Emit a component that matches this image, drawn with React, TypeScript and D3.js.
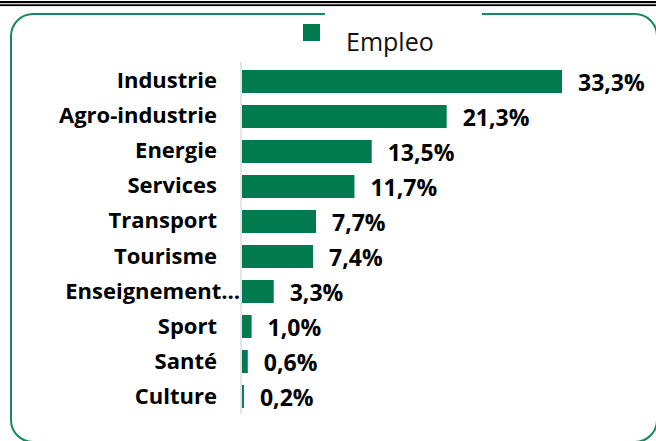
import React, { useRef, useEffect } from 'react';
import * as d3 from 'd3';

const CATEGORIES = [
  'Industrie',
  'Agro-industrie',
  'Energie',
  'Services',
  'Transport',
  'Tourisme',
  'Enseignement…',
  'Sport',
  'Santé',
  'Culture',
];
const VALUES = [33.3, 21.3, 13.5, 11.7, 7.7, 7.4, 3.3, 1.0, 0.6, 0.2];
const SERIES_NAME = 'Empleo';

const GREEN = '#007a4e';
const BORDER = '#168a5c';
const FONT = '"Open Sans", "DejaVu Sans", sans-serif';

export default function App() {
  const svgRef = useRef<SVGSVGElement | null>(null);

  useEffect(() => {
    const width = 656;
    const height = 441;
    const axisX = 241;

    d3.select(svgRef.current).selectAll('*').remove();
    const svg = d3.select(svgRef.current).attr('width', width).attr('height', height);

    // double rule on top
    svg.append('rect').attr('x', 0).attr('y', 1).attr('width', width).attr('height', 2.2).attr('fill', '#000');
    svg.append('rect').attr('x', 0).attr('y', 4.3).attr('width', width).attr('height', 1.8).attr('fill', '#000');

    // rounded frame, with a gap behind the legend
    svg.append('rect')
      .attr('x', 11).attr('y', 14)
      .attr('width', 646).attr('height', 428)
      .attr('rx', 22)
      .attr('fill', 'none')
      .attr('stroke', BORDER)
      .attr('stroke-width', 2);
    svg.append('rect').attr('x', 325).attr('y', 10).attr('width', 157).attr('height', 8).attr('fill', '#fff');

    // legend
    svg.append('rect').attr('x', 303).attr('y', 24).attr('width', 17).attr('height', 17).attr('fill', GREEN);
    svg.append('text')
      .attr('x', 346).attr('y', 51)
      .attr('font-family', FONT).attr('font-size', 25)
      .attr('fill', '#111')
      .text(SERIES_NAME);

    const x = d3.scaleLinear().domain([0, 33.3]).range([axisX + 1, 562]);
    const y = d3.scaleBand<string>()
      .domain(CATEGORIES)
      .range([70, 408])
      .paddingInner(0.343)
      .paddingOuter(0);

    const data = CATEGORIES.map((c, i) => ({ cat: c, val: VALUES[i] }));

    svg.append('g').selectAll('rect')
      .data(data)
      .join('rect')
      .attr('x', x(0))
      .attr('y', (d) => y(d.cat)!)
      .attr('width', (d) => x(d.val) - x(0))
      .attr('height', y.bandwidth())
      .attr('fill', GREEN);

    // category axis line
    svg.append('line')
      .attr('x1', axisX).attr('x2', axisX)
      .attr('y1', 62).attr('y2', 414)
      .attr('stroke', '#d9dee5')
      .attr('stroke-width', 1.5);

    // category labels
    svg.append('g').selectAll('text')
      .data(data)
      .join('text')
      .attr('x', (d) => (d.cat.endsWith('…') ? axisX - 1 : axisX - 24))
      .attr('y', (d) => y(d.cat)! + y.bandwidth() / 2 + 7)
      .attr('text-anchor', 'end')
      .attr('font-family', FONT).attr('font-size', 22).attr('font-weight', 700)
      .attr('fill', '#000')
      .text((d) => d.cat);

    // value labels
    svg.append('g').selectAll('text')
      .data(data)
      .join('text')
      .attr('x', (d) => x(d.val) + 16)
      .attr('y', (d) => y(d.cat)! + y.bandwidth() / 2 + 9.5)
      .attr('font-family', FONT).attr('font-size', 23).attr('font-weight', 700)
      .attr('fill', '#000')
      .text((d) => d.val.toFixed(1).replace('.', ',') + '%');
  }, []);

  return (
    <div style={{ position: 'fixed', left: 0, top: 0, background: '#fff' }}>
      <svg ref={svgRef} style={{ display: 'block' }} />
    </div>
  );
}
